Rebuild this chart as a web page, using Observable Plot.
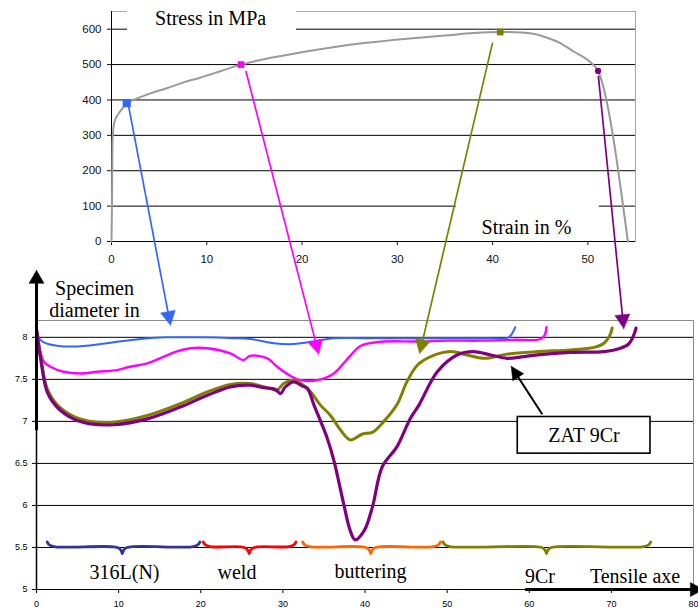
<!DOCTYPE html>
<html><head><meta charset="utf-8">
<script src="https://cdn.jsdelivr.net/npm/d3@7"></script>
<script src="https://cdn.jsdelivr.net/npm/@observablehq/plot@0.6"></script>
<style>
body{margin:0;background:#fff;}
#wrap{position:relative;width:698px;height:611px;overflow:hidden;background:#fff;}
#wrap svg{position:absolute;left:0;top:0;}
</style></head><body><div id="wrap"></div>
<script>
// ---------- TOP CHART DATA: stress–strain curve ----------
const strainPct = [0, 0.05, 0.1, 0.2, 0.35, 0.6, 0.95, 1.6, 2.5, 4, 5.8, 7.5, 9.3, 11.5, 13.6, 16.5, 19.8, 25, 31, 35, 38, 40.8, 43, 44.3, 45.5, 47, 48.5, 50.3, 51.07, 54.2];
const stressMPa = [0, 100, 280, 320, 341, 355, 369, 391, 402, 418, 433, 449, 463, 482, 500, 518, 534, 556, 573, 582, 589, 592, 591, 587, 578, 562, 537, 506, 482, 0];
const topXTicks = [0, 10, 20, 30, 40, 50];
const topYTicks = [0, 100, 200, 300, 400, 500, 600];

// marked stages on the curve
const stageStrain = [1.6, 13.6, 40.8, 51.07];
const stageStress = [391, 500, 592, 482];
// arrows: from curve (strain, stress) to specimen profile (position, diameter)
const arrowFromStrain = [1.75, 14.1, 40.0, 51.1];
const arrowFromStress = [389, 482, 562, 468];
const arrowToPos = [16.32, 34.37, 46.64, 71.51];
const arrowToDiam = [8.143, 7.798, 7.806, 8.103];

// ---------- BOTTOM CHART DATA: specimen diameter profiles ----------
const blueX = [0, 0.4, 0.9, 2.5, 4.5, 7.8, 10, 12.7, 15.9, 20, 24, 26, 28.9, 31.3, 34.2, 36.2, 40, 45, 50, 55, 57.3, 57.8, 58.3];
const blueY = [8.1, 7.98, 7.94, 7.9, 7.89, 7.92, 7.95, 7.98, 8.0, 8.0, 7.99, 7.98, 7.93, 7.92, 7.96, 7.99, 7.99, 7.99, 7.99, 7.99, 7.99, 8.03, 8.12];
const magX = [0, 0.3, 0.9, 1.7, 3.3, 5.4, 7.4, 9.8, 11.4, 13.5, 15.5, 17, 18.75, 20.8, 23.6, 25.2, 26, 28.1, 29.3, 31.3, 32.1, 34.2, 36.2, 38.2, 39.5, 42.3, 46.4, 50, 54, 58, 61.4, 61.9, 62.1];
const magY = [8.1, 7.9, 7.71, 7.65, 7.59, 7.57, 7.59, 7.61, 7.65, 7.69, 7.77, 7.83, 7.87, 7.87, 7.81, 7.73, 7.78, 7.75, 7.65, 7.52, 7.49, 7.49, 7.57, 7.78, 7.9, 7.95, 7.95, 7.96, 7.96, 7.97, 7.98, 8.03, 8.12];
const oliveX = [0, 0.5, 1.3, 2.5, 4.5, 6.6, 9.4, 13.5, 17.5, 20.8, 23.6, 26, 28.5, 29.3, 30.1, 31.3, 32.5, 33.4, 34.6, 35.8, 37, 38.2, 39.7, 40.9, 42.3, 43.9, 45.1, 46.4, 48, 50.4, 52.4, 54.5, 57.3, 61, 65, 67.9, 69.1, 69.8, 70.1];
const oliveY = [8.1, 7.78, 7.39, 7.2, 7.06, 7.0, 6.99, 7.07, 7.21, 7.35, 7.44, 7.45, 7.39, 7.37, 7.45, 7.49, 7.43, 7.35, 7.19, 7.07, 6.9, 6.78, 6.85, 6.87, 7.0, 7.2, 7.47, 7.67, 7.77, 7.83, 7.79, 7.75, 7.8, 7.83, 7.85, 7.88, 7.93, 8.02, 8.11];
const purpleX = [0, 0.5, 1.3, 2.5, 4.5, 6.6, 9.4, 13.5, 17.5, 20.8, 23.6, 26, 27.7, 29.1, 29.7, 30.3, 31.3, 32.4, 33, 33.8, 34.6, 35.4, 36.2, 37.4, 38.2, 38.8, 39.9, 40.9, 42.1, 43.9, 45.5, 46.6, 48.8, 51.2, 53.2, 55.3, 57.3, 59.3, 61, 65, 69.1, 71.1, 72.1, 72.7, 73];
const purpleY = [8.1, 7.75, 7.35, 7.17, 7.03, 6.97, 6.96, 7.03, 7.17, 7.31, 7.41, 7.43, 7.4, 7.38, 7.33, 7.41, 7.47, 7.42, 7.39, 7.19, 7.0, 6.8, 6.54, 6.02, 5.7, 5.59, 5.7, 5.98, 6.46, 6.7, 7.03, 7.2, 7.59, 7.79, 7.83, 7.79, 7.75, 7.77, 7.79, 7.82, 7.83, 7.87, 7.92, 8.02, 8.11];
const botXTicks = [0, 10, 20, 30, 40, 50, 60, 70, 80];
const botYTicks = [5, 5.5, 6, 6.5, 7, 7.5, 8];

// zones along the tensile axe
const zoneNames = ["316L(N)", "weld", "buttering", "9Cr"];
const zoneStart = [1.3, 20.3, 32.4, 49.5];
const zoneMid = [10.44, 25.9, 40.7, 62.1];
const zoneEnd = [19.9, 31.6, 49.2, 74.8];

// ---------- LAYOUT & STYLE ----------
const W = 698, H = 611;
const SANS = "'Liberation Sans', Arial, sans-serif";
const SERIF = "'Liberation Serif', 'Times New Roman', serif";
const topM = {left: 111, right: 63, top: 11, bottom: 370};
const botM = {left: 36, right: 5, top: 320, bottom: 22};
const topXDomain = [0, 55], topYDomain = [0, 650];
const botXDomain = [0, 80], botYDomain = [5, 8.2];
const stageColor = ["#3366ff", "#ff00ff", "#808000", "#800080"];
const stageSymbol = ["square", "square", "square", "circle"];
const stageR = [4.6, 3.8, 3.8, 3.1];
const zoneColor = ["#333399", "#ff0000", "#ff6600", "#808000"];
const zoneLabelX = [10.72, 24.41, 40.67, 61.31];
const zoneLabelY = [5.121, 5.121, 5.133, 5.074];

const tx = Plot.scale({x: {domain: topXDomain, range: [topM.left, W - topM.right]}});
const ty = Plot.scale({y: {domain: topYDomain, range: [H - topM.bottom, topM.top]}});
const bx = Plot.scale({x: {domain: botXDomain, range: [botM.left, W - botM.right]}});
const by = Plot.scale({y: {domain: botYDomain, range: [H - botM.bottom, botM.top]}});

// arrow head geometry in pixels
function headPx(sx, sy, ex, ey, len, wid) {
  const dx = ex - sx, dy = ey - sy, L = Math.hypot(dx, dy), ux = dx / L, uy = dy / L;
  const cx = ex - len * ux, cy = ey - len * uy;
  return {
    tri: [[ex, ey], [cx - uy * wid / 2, cy + ux * wid / 2], [cx + uy * wid / 2, cy - ux * wid / 2], [ex, ey]],
    stop: [ex - len * 0.6 * ux, ey - len * 0.6 * uy]
  };
}
function arrowMarks(sx, sy, ex, ey, xs, ys, color, width, len, wid) {
  // sx..ey in data units of the (xs, ys) scales
  const p = headPx(xs.apply(sx), ys.apply(sy), xs.apply(ex), ys.apply(ey), len, wid);
  const tri = p.tri.map(([a, b]) => ({x: xs.invert(a), y: ys.invert(b)}));
  return [
    Plot.link([{x1: sx, y1: sy, x2: xs.invert(p.stop[0]), y2: ys.invert(p.stop[1])}],
      {x1: "x1", y1: "y1", x2: "x2", y2: "y2", stroke: color, strokeWidth: width}),
    Plot.line(tri, {x: "x", y: "y", fill: color, stroke: color, strokeWidth: 0.5, curve: "linear-closed"})
  ];
}

// ---------- BOTTOM CHART ----------
function series(xs, ys) { return xs.map((x, i) => ({pos: x, diam: ys[i]})); }
function braceHalf(a, m, side) {
  const s = side; // +1 left half, -1 right half
  return [
    {pos: a, diam: 5.565}, {pos: a + 0.3 * s, diam: 5.527}, {pos: a + 1.0 * s, diam: 5.508},
    {pos: m - 1.1 * s, diam: 5.508}, {pos: m - 0.35 * s, diam: 5.488}, {pos: m, diam: 5.432}
  ];
}
const botMarks = [
  Plot.frame({stroke: "#8c8c8c"}),
  Plot.ruleY(botYTicks.filter(v => v > 5), {stroke: "#000", strokeWidth: 1}),
  Plot.ruleX([0], {stroke: "#000", strokeWidth: 1.5}),
  Plot.ruleY([5], {stroke: "#000", strokeWidth: 1}),
];
zoneNames.forEach((n, i) => {
  botMarks.push(Plot.line(braceHalf(zoneStart[i], zoneMid[i], 1), {x: "pos", y: "diam", stroke: zoneColor[i], strokeWidth: 2.8, curve: "catmull-rom"}));
  botMarks.push(Plot.line(braceHalf(zoneEnd[i], zoneMid[i], -1), {x: "pos", y: "diam", stroke: zoneColor[i], strokeWidth: 2.8, curve: "catmull-rom"}));
  botMarks.push(Plot.text([n], {x: () => zoneLabelX[i], y: () => zoneLabelY[i], text: d => d, fontFamily: SERIF, fontSize: 20, fill: "#000", textAnchor: "middle", lineAnchor: "bottom"}));
});
botMarks.push(
  Plot.line(series(blueX, blueY), {x: "pos", y: "diam", stroke: stageColor[0], strokeWidth: 2, curve: "catmull-rom"}),
  Plot.line(series(magX, magY), {x: "pos", y: "diam", stroke: stageColor[1], strokeWidth: 2.4, curve: "catmull-rom"}),
  Plot.line(series(oliveX, oliveY), {x: "pos", y: "diam", stroke: stageColor[2], strokeWidth: 3, curve: "catmull-rom"}),
  Plot.line(series(purpleX, purpleY), {x: "pos", y: "diam", stroke: stageColor[3], strokeWidth: 3.2, curve: "catmull-rom"})
);
// ZAT 9Cr callout
const zatBox = {x1: 58.6, x2: 74.76, y1: 6.616, y2: 7.052};
botMarks.push(
  Plot.rect([zatBox], {x1: "x1", x2: "x2", y1: "y1", y2: "y2", fill: "#fff", stroke: "#000", strokeWidth: 1.6}),
  Plot.text(["ZAT 9Cr"], {x: () => 66.67, y: () => 6.755, text: d => d, fontFamily: SERIF, fontSize: 20, fill: "#000", textAnchor: "middle", lineAnchor: "bottom"}),
  ...arrowMarks(61.58, 7.084, 57.8, 7.655, bx, by, "#000", 2, 13, 13),
  // axis arrows
  ...arrowMarks(0, 6.894, 0, 8.797, bx, by, "#000", 3, 13, 15),
  ...arrowMarks(59.5, 5, 81.2, 5, bx, by, "#000", 3, 13, 14),
  Plot.text(["Tensile axe"], {x: () => 72.88, y: () => 5.074, text: d => d, fontFamily: SERIF, fontSize: 20, fill: "#000", textAnchor: "middle", lineAnchor: "bottom"}),
  Plot.text(["Specimen"], {x: () => 7.06, y: () => 8.5, text: d => d, fontFamily: SERIF, fontSize: 20, fill: "#000", textAnchor: "middle", lineAnchor: "bottom"}),
  Plot.text(["diameter in"], {x: () => 7.06, y: () => 8.242, text: d => d, fontFamily: SERIF, fontSize: 20, fill: "#000", textAnchor: "middle", lineAnchor: "bottom"})
);

const botChart = Plot.plot({
  width: W, height: H,
  marginLeft: botM.left, marginRight: botM.right, marginTop: botM.top, marginBottom: botM.bottom,
  style: {background: "transparent", fontFamily: SANS, fontSize: "9px", color: "#000", overflow: "visible"},
  x: {domain: botXDomain, ticks: botXTicks, tickSize: 4, tickPadding: 7, label: null, tickFormat: d => String(d)},
  y: {domain: botYDomain, ticks: botYTicks, tickSize: 4, tickPadding: 5, label: null, tickFormat: d => String(d)},
  marks: botMarks
});

// ---------- TOP CHART ----------
const curve = strainPct.map((s, i) => ({strain: s, stress: stressMPa[i]}));
const topMarks = [
  Plot.frame({stroke: "#a8a8a8"}),
  Plot.ruleY(topYTicks.filter(v => v > 0), {stroke: "#000", strokeWidth: 1}),
  Plot.ruleX([0], {stroke: "#000", strokeWidth: 1}),
  Plot.ruleY([0], {stroke: "#000", strokeWidth: 1}),
  Plot.rect([{x1: 1.68, x2: 19.42, y1: 592, y2: 680}], {x1: "x1", x2: "x2", y1: "y1", y2: "y2", fill: "#fff"}),
  Plot.rect([{x1: 36.2, x2: 51.2, y1: 5, y2: 116}], {x1: "x1", x2: "x2", y1: "y1", y2: "y2", fill: "#fff"}),
  Plot.text(["Stress in MPa"], {x: () => 10.4, y: () => 612, text: d => d, fontFamily: SERIF, fontSize: 20, fill: "#000", textAnchor: "middle", lineAnchor: "bottom"}),
  Plot.text(["Strain in %"], {x: () => 43.56, y: () => 21, text: d => d, fontFamily: SERIF, fontSize: 20, fill: "#000", textAnchor: "middle", lineAnchor: "bottom"}),
  Plot.line(curve, {x: "strain", y: "stress", stroke: "#9a9a9a", strokeWidth: 2, curve: "monotone-x"})
];
// arrows from stages on the curve down to the specimen profile
stageColor.forEach((c, i) => {
  const ex = tx.invert(bx.apply(arrowToPos[i]));
  const ey = ty.invert(by.apply(arrowToDiam[i]));
  topMarks.push(...arrowMarks(arrowFromStrain[i], arrowFromStress[i], ex, ey, tx, ty, c, 1.7, 14, 15));
});
stageColor.forEach((c, i) => {
  topMarks.push(Plot.dot([0], {x: () => stageStrain[i], y: () => stageStress[i], symbol: stageSymbol[i], r: stageR[i], fill: c, stroke: "none"}));
});

const topChart = Plot.plot({
  width: W, height: H,
  marginLeft: topM.left, marginRight: topM.right, marginTop: topM.top, marginBottom: topM.bottom,
  style: {background: "transparent", fontFamily: SANS, fontSize: "11.5px", color: "#111", overflow: "visible"},
  x: {domain: topXDomain, ticks: topXTicks, tickSize: 4, tickPadding: 9, label: null, tickFormat: d => String(d)},
  y: {domain: topYDomain, ticks: topYTicks, tickSize: 4, tickPadding: 6, label: null, tickFormat: d => String(d)},
  marks: topMarks
});

const wrap = document.getElementById("wrap");
wrap.appendChild(botChart);
wrap.appendChild(topChart);
</script>
</body></html>
